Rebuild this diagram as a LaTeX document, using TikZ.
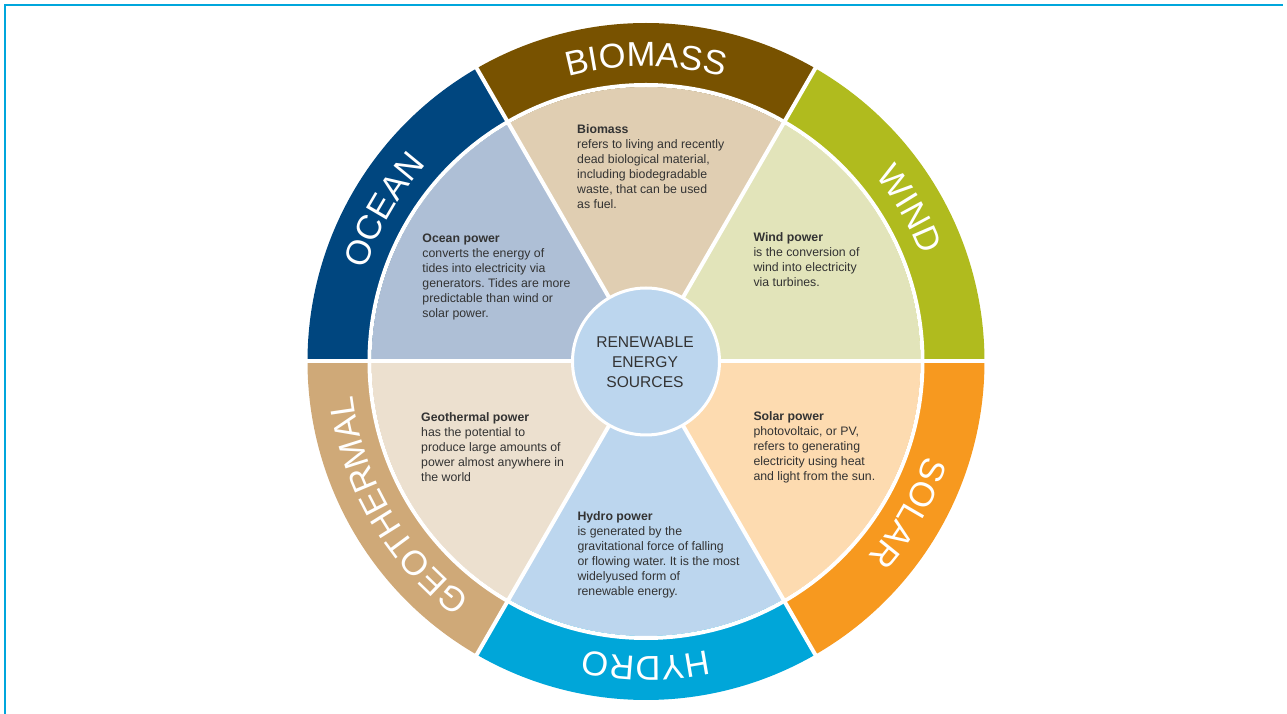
\documentclass[tikz,border=0pt]{standalone}
\usepackage{fontspec}
\setmainfont{Liberation Sans}
\usetikzlibrary{decorations.text}
\frenchspacing
\definecolor{frameC}{HTML}{00A6DC}
\definecolor{txt}{HTML}{333333}
\definecolor{oceanO}{HTML}{00467F}
\definecolor{oceanI}{HTML}{AEBFD6}
\definecolor{bioO}{HTML}{785200}
\definecolor{bioI}{HTML}{E0CEB2}
\definecolor{windO}{HTML}{B0BB1E}
\definecolor{windI}{HTML}{E2E4BA}
\definecolor{solarO}{HTML}{F7991F}
\definecolor{solarI}{HTML}{FDDBB0}
\definecolor{hydroO}{HTML}{00A6D9}
\definecolor{hydroI}{HTML}{BCD6EE}
\definecolor{geoO}{HTML}{CFA978}
\definecolor{geoI}{HTML}{ECE0CF}
\definecolor{centerC}{HTML}{BCD6EE}
\newcommand\ringfont{\fontsize{34.5}{34.5}\selectfont\color{white}}
\tikzset{
  infotext/.style={anchor=base west, inner sep=0pt, text=txt, font=\fontsize{12.3}{15}\selectfont},
  ringlabel/.style={decorate, decoration={text along path, text align=center, text={|\ringfont|#1}}},
  gapline/.style={white, line width=4pt},
  framel/.style={frameC, line width=2pt}
}
\newcommand\sectorwedge[4]{% start angle, end angle, radius, color
  \fill[#4] (0,0) -- (#1:#3) arc[start angle=#1, end angle=#2, radius=#3] -- cycle;}
\begin{document}
\begin{tikzpicture}
\useasboundingbox (-646pt,-352.5pt) rectangle (641pt,361.5pt);
% frame
\draw[framel] (-641pt,-360pt) -- (-641pt,356.5pt) -- (637pt,356.5pt);
% outer ring wedges
\sectorwedge{0}{60}{338.5pt}{windO}
\sectorwedge{60}{120}{338.5pt}{bioO}
\sectorwedge{120}{180}{338.5pt}{oceanO}
\sectorwedge{180}{240}{338.5pt}{geoO}
\sectorwedge{240}{300}{338.5pt}{hydroO}
\sectorwedge{300}{360}{338.5pt}{solarO}
% inner wedges
\sectorwedge{0}{60}{274.5pt}{windI}
\sectorwedge{60}{120}{274.5pt}{bioI}
\sectorwedge{120}{180}{274.5pt}{oceanI}
\sectorwedge{180}{240}{274.5pt}{geoI}
\sectorwedge{240}{300}{274.5pt}{hydroI}
\sectorwedge{300}{360}{274.5pt}{solarI}
% gaps
\draw[gapline] (0,0) circle[radius=276.5pt];
\foreach \a in {0,60,...,300} \draw[gapline] (0,0) -- (\a:345pt);
% ring labels
\path[ringlabel=BIOMASS] (120:295pt) arc[start angle=120, end angle=60, radius=295pt];
\path[ringlabel=WIND] (60:295pt) arc[start angle=60, end angle=0, radius=295pt];
\path[ringlabel=SOLAR] (0:295pt) arc[start angle=0, end angle=-60, radius=295pt];
\path[ringlabel=HYDRO] (-60:295pt) arc[start angle=-60, end angle=-120, radius=295pt];
\path[ringlabel=GEOTHERMAL] (-120:295pt) arc[start angle=-120, end angle=-180, radius=295pt];
\path[ringlabel=OCEAN] (180:295pt) arc[start angle=180, end angle=120, radius=295pt];
% centre
\node[circle, fill=centerC, draw=white, line width=3pt, minimum size=147pt, inner sep=0pt] (hub) at (0,0) {};
\node[text=txt, align=center, font=\fontsize{15.6}{20}\selectfont, inner sep=0pt] (hubtext) at (-1pt,-1pt) {RENEWABLE\\ENERGY\\SOURCES};
% sector texts
\node[infotext] (biomass) at (-69pt,227.5pt) {\begin{tabular}[t]{@{}l@{}}\textbf{Biomass}\\refers to living and recently\\dead biological material,\\including biodegradable\\waste, that can be used\\as fuel.\end{tabular}};
\node[infotext] (ocean) at (-223.7pt,118.5pt) {\begin{tabular}[t]{@{}l@{}}\textbf{Ocean power}\\converts the energy of\\tides into electricity via\\generators. Tides are more\\predictable than wind or\\solar power.\end{tabular}};
\node[infotext] (wind) at (107.3pt,119.5pt) {\begin{tabular}[t]{@{}l@{}}\textbf{Wind power}\\is the conversion of\\wind into electricity\\via turbines.\end{tabular}};
\node[infotext] (solar) at (107.3pt,-59.5pt) {\begin{tabular}[t]{@{}l@{}}\textbf{Solar power}\\photovoltaic, or PV,\\refers to generating\\electricity using heat\\and light from the sun.\end{tabular}};
\node[infotext] (geo) at (-225pt,-60.5pt) {\begin{tabular}[t]{@{}l@{}}\textbf{Geothermal power}\\has the potential to\\produce large amounts of\\power almost anywhere in\\the world\end{tabular}};
\node[infotext] (hydro) at (-68.7pt,-159pt) {\begin{tabular}[t]{@{}l@{}}\textbf{Hydro power}\\is generated by the\\gravitational force of falling\\or flowing water. It is the most\\widelyused form of\\renewable energy.\end{tabular}};
\end{tikzpicture}
\end{document}
